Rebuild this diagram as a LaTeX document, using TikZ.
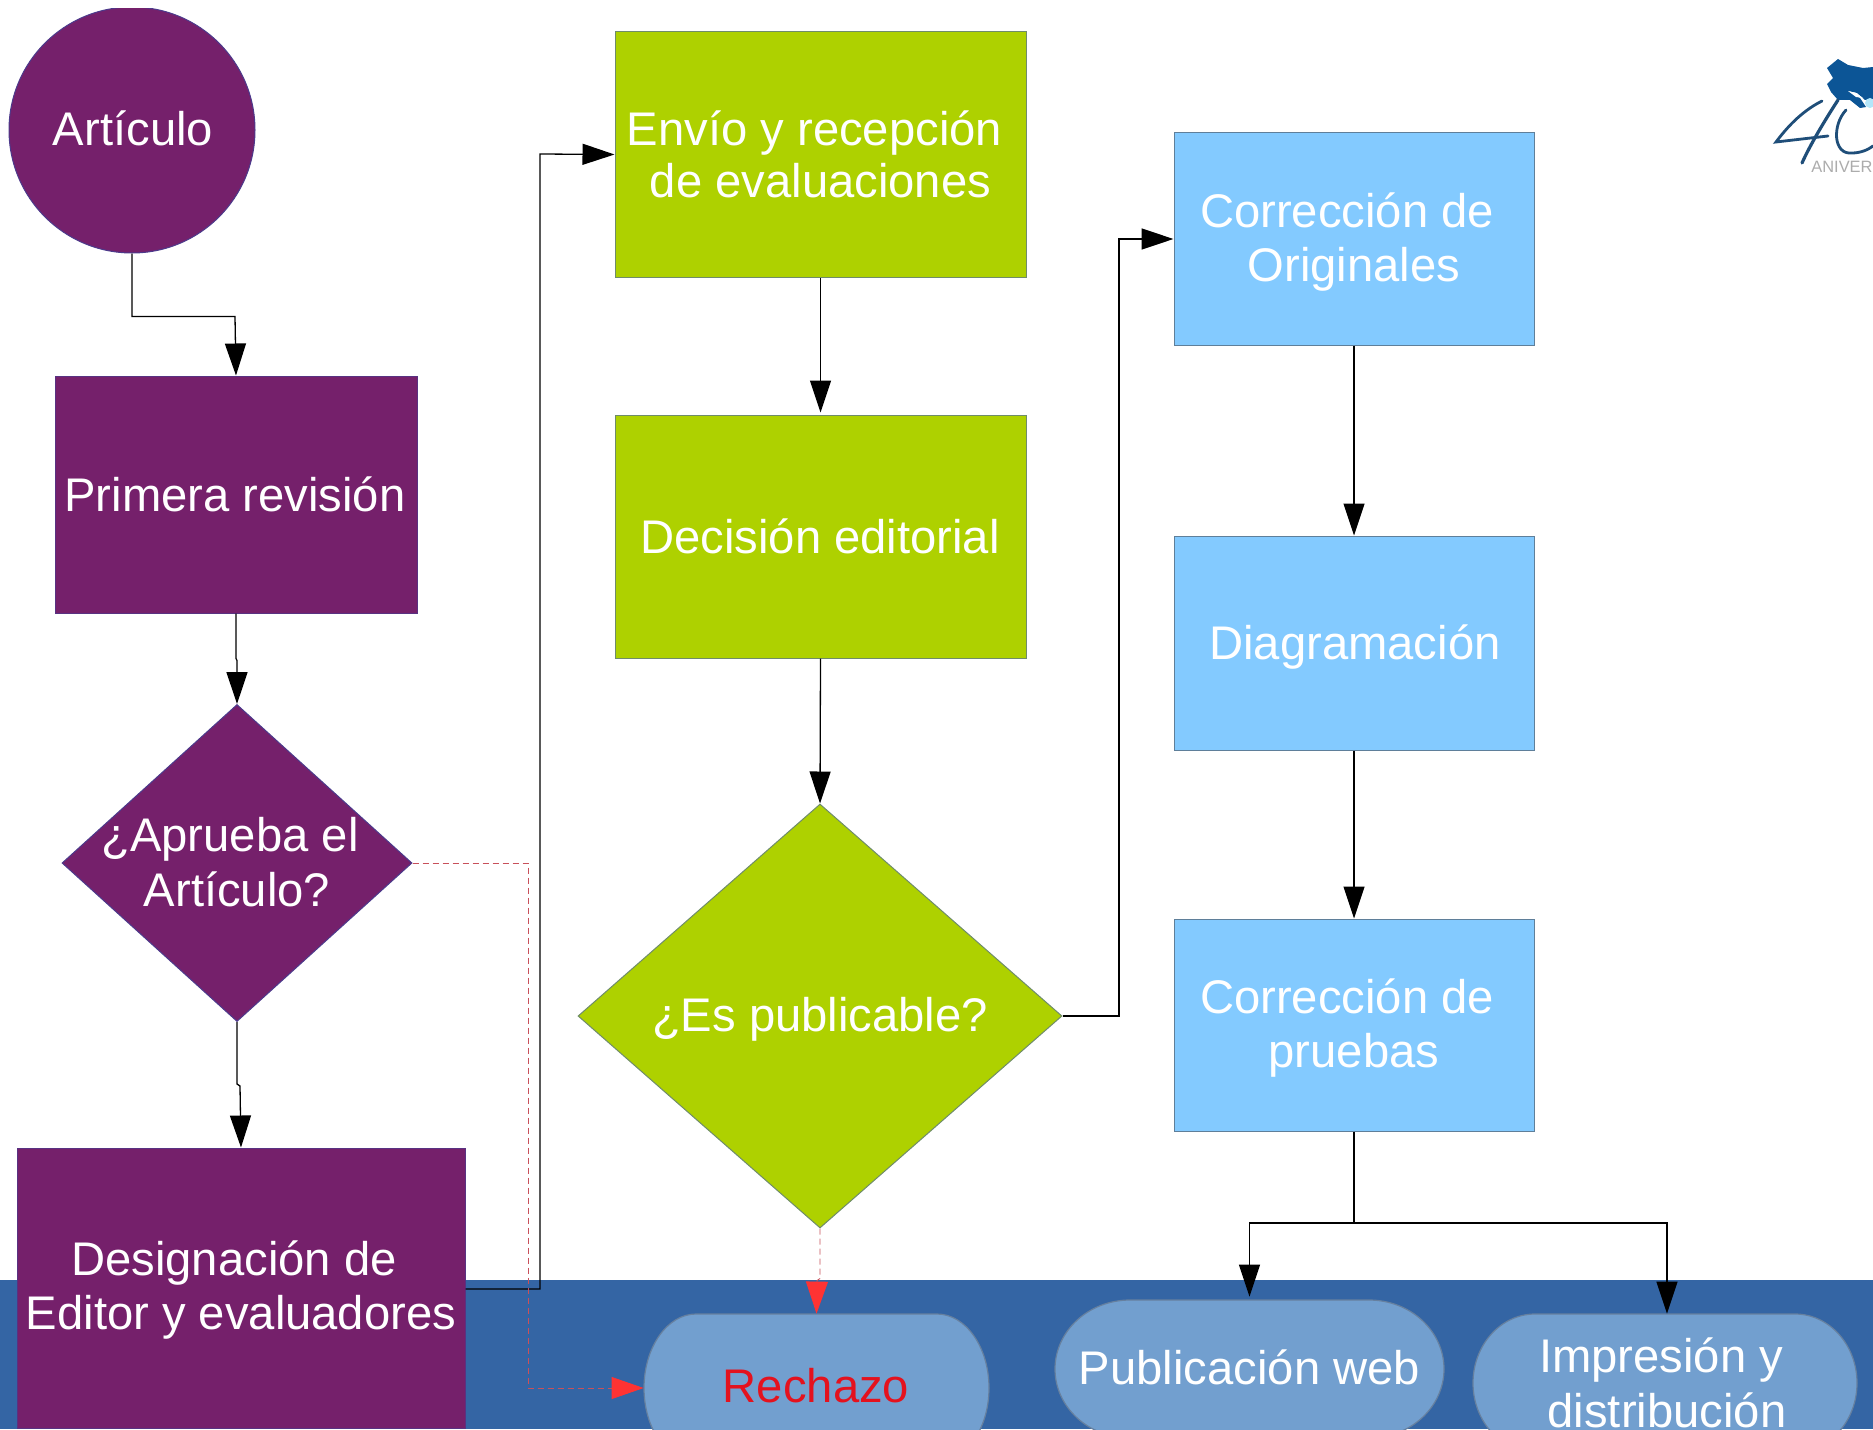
\documentclass[tikz,border=0pt]{standalone}
\usepackage{fontspec}
\setmainfont{Liberation Sans}
\usetikzlibrary{shapes.geometric,arrows.meta}
\definecolor{purp}{HTML}{75206B}
\definecolor{purpl}{HTML}{4C3A8C}
\definecolor{grn}{HTML}{AED100}
\definecolor{grnl}{HTML}{6F8C6A}
\definecolor{sky}{HTML}{83CAFF}
\definecolor{skyl}{HTML}{5F7F9A}
\definecolor{band}{HTML}{3465A4}
\definecolor{pillc}{HTML}{729FCF}
\definecolor{pilll}{HTML}{66809F}
\definecolor{rej}{HTML}{E4121E}
\definecolor{rtip}{HTML}{FF3333}
\definecolor{rline}{HTML}{C8505A}
\definecolor{logob}{HTML}{0C5596}
\definecolor{logod}{HTML}{1F4E79}
\tikzset{
  lab/.style={font=\fontsize{23.6}{27.3}\selectfont,align=center,text=white,inner sep=0pt},
  shapeonly/.style={rectangle,line width=.5pt},
  pbox/.style={shapeonly,draw=purpl!70!purp,fill=purp},
  gbox/.style={shapeonly,draw=grnl,fill=grn},
  sbox/.style={shapeonly,draw=skyl,fill=sky},
  dia/.style={diamond,aspect=1,inner sep=0pt,line width=.5pt},
  pilltext/.style={rectangle},
  conn/.style={draw=black,line width=.65pt,-{Triangle[width=10.5pt,length=16pt]}},
  plainline/.style={draw=black,line width=.65pt},
  rejline/.style={draw=rline,line width=.4pt,densely dashed,-{Triangle[width=11pt,length=16pt,color=rtip,fill=rtip]}}
}
% name, x1, y1, x2, y2, rx
\newcommand\pillshape[6]{%
  \pgfmathsetmacro\pxa{#2+#6}\pgfmathsetmacro\pxb{#4-#6}%
  \pgfmathsetmacro\pya{(#3+#5)/2}\pgfmathsetmacro\pry{(#5-#3)/2}%
  \pgfmathsetmacro\pcx{0.5523*#6}\pgfmathsetmacro\pcy{0.5523*\pry}%
  \pgfmathsetmacro\pw{(#4-#2)/2}\pgfmathsetmacro\ph{\pry}%
  \draw[draw=pilll,line width=.6pt,fill=pillc] (\pxa,#3) -- (\pxb,#3)
    .. controls ({\pxb+\pcx},#3) and (#4,{\pya-\pcy}) .. (#4,\pya)
    .. controls (#4,{\pya+\pcy}) and ({\pxb+\pcx},#5) .. (\pxb,#5)
    -- (\pxa,#5)
    .. controls ({\pxa-\pcx},#5) and (#2,{\pya+\pcy}) .. (#2,\pya)
    .. controls (#2,{\pya-\pcy}) and ({\pxa-\pcx},#3) .. (\pxa,#3) -- cycle;
  \node[pilltext,minimum width=\pw pt,minimum height=\ph pt] (#1) at ({(#2+#4)/2},\pya) {};
}
\begin{document}
\begin{tikzpicture}[x=0.5pt,y=-0.5pt]
\useasboundingbox (0,0) rectangle (1873,1429);
\clip (0,9) rectangle (1873,1429);
\fill[white] (0,0) rectangle (1873,1429);
\fill[band] (0,1280) rectangle (1873,1429);

% logo
\fill[logob] (1827,68) -- (1838,59) -- (1848,65) -- (1863,68) -- (1873,67) -- (1873,100) -- (1865,100) -- (1857,93) -- (1848,91) -- (1860,98) -- (1866,107) -- (1860,108) -- (1850,100) -- (1838,100) -- (1831,92) -- (1827,84) -- (1833,78) -- cycle;
\fill[white] (1848,91) -- (1856,93) -- (1863,98) -- (1856,97) -- cycle;
\fill[cyan!30] (1870,103) circle (5);
\draw[logod,line width=1.4pt,line cap=round] (1822,101) .. controls (1800,112) and (1785,130) .. (1776,142) -- (1828,136);
\draw[logod,line width=1.6pt,line cap=round] (1838,100) .. controls (1825,120) and (1810,145) .. (1802,163);
\draw[logod,line width=1.4pt,line cap=round] (1846,110) .. controls (1832,125) and (1833,155) .. (1852,153) .. controls (1860,153) and (1868,150) .. (1873,146);
\node[inner sep=0pt,anchor=west,text=gray!65,font=\fontsize{8.2}{9}\selectfont] (logotext) at (1811,167) {ANIVER};

% purple column
\node[circle,fill=purp,draw=purpl,line width=.5pt,minimum size=123pt,inner sep=0pt] (art) at (132,130) {};
\node[lab] (artt) at (133,128) {Artículo};
\node[pbox,minimum width=181pt,minimum height=118.5pt] (prim) at (236,494.5) {};
\node[lab] (primt) at (235,494.5) {Primera revisión};
\node[dia,draw=purpl,fill=purp,minimum width=175pt,minimum height=158.5pt] (apr) at (237,863) {};
\node[lab] (aprt) at (237,862) {\mbox{¿Aprueba el\hspace{7pt}}\\Artículo?};
\node[pbox,minimum width=224pt,minimum height=140pt] (des) at (241,1288) {};
\node[lab] (dest) at (241,1290) {\mbox{Designación de\hspace{7pt}}\\Editor y evaluadores};

% green column
\node[gbox,minimum width=205.5pt,minimum height=122.5pt] (env) at (820.5,154.5) {};
\node[lab] (envt) at (820.5,154) {\mbox{Envío y recepción\hspace{6pt}}\\[-1.2pt]de evaluaciones};
\node[gbox,minimum width=205.5pt,minimum height=121.5pt] (dec) at (820.5,536.5) {};
\node[lab] (dect) at (820,536) {Decisión editorial};
\node[dia,draw=grnl,fill=grn,minimum width=242pt,minimum height=212pt] (pub) at (820,1016) {};
\node[lab] (pubt) at (820,1019) {¿Es publicable?};

% blue column
\node[sbox,minimum width=180pt,minimum height=106pt] (cor) at (1354,239) {};
\node[lab] (cort) at (1354,242) {\mbox{Corrección de\hspace{7pt}}\\Originales};
\node[sbox,minimum width=180pt,minimum height=107pt] (dia) at (1354,643) {};
\node[lab] (diat) at (1355,647) {Diagramación};
\node[sbox,minimum width=180pt,minimum height=106pt] (pru) at (1354,1025) {};
\node[lab] (prut) at (1354,1028) {\mbox{Corrección de\hspace{7pt}}\\pruebas};

% end shapes
\pillshape{rech}{644}{1314}{989}{1462}{52}
\node[lab,text=rej] (recht) at (816,1386) {Rechazo};
\pillshape{web}{1055}{1300}{1444}{1438}{75}
\node[lab] (webt) at (1249.5,1367) {Publicación web};
\pillshape{imp}{1473}{1314}{1857}{1452}{62}
\node[lab] (impt) at (1667,1383) {\mbox{Impresión y\hspace{6pt}}\\distribución};

% connectors
\draw[conn] (art.south) |- ++(103,63) -- (prim.north);
\draw[conn] (prim.south) -- ++(0,45) -- ++(1,2) -- (apr.north);
\draw[conn] (apr.south) -- ++(0,62) -- ++(3,2) -- (des.north);
\draw[conn] (des.east |- 0,1289) -| (540,154) -- (env.west);
\draw[conn,shorten >=1pt] (env.south) -- (dec.north);
\draw[conn] (dec.south) -- (pub.north);
\draw[conn] (pub.east) -| (1119,239) -- (cor.west);
\draw[conn] (cor.south) -- (dia.north);
\draw[conn] (dia.south) -- (pru.north);
\coordinate (split) at (1354,1223);
\draw[plainline] (pru.south) -- (split);
\draw[conn,shorten >=1.5pt] (split) -| (web.north);
\draw[conn] (split) -| ([xshift=1pt]imp.north);
\draw[rejline] (apr.east) -| (528,1388) -- (rech.west);
\draw[rejline] (pub.south) -- ++(0,50) -- ++(-3,2) -- (rech.north);
\end{tikzpicture}
\end{document}
